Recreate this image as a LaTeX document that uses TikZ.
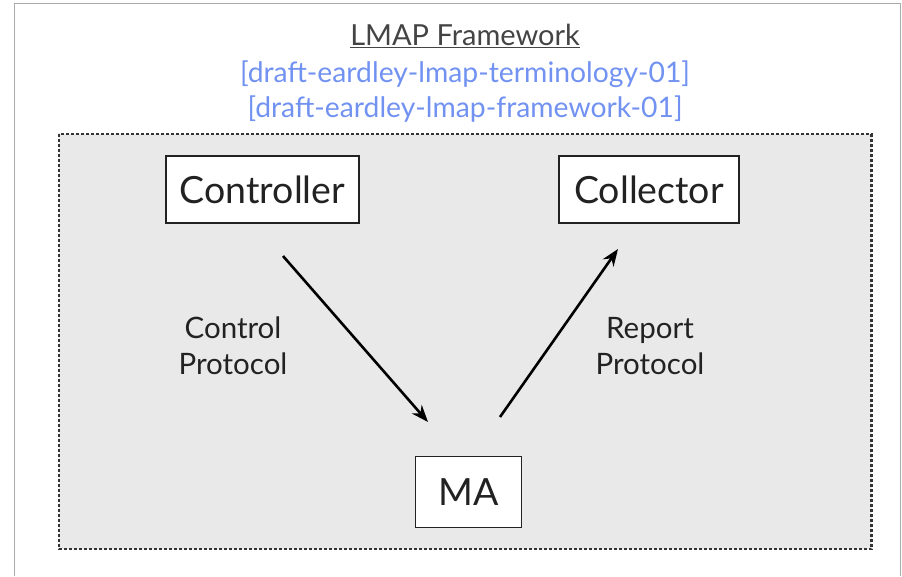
\documentclass[tikz,border=0pt]{standalone}
\usepackage{fontspec}
\setmainfont{Lato}
\usetikzlibrary{arrows.meta}
\definecolor{framegray}{HTML}{AAAAAA}
\definecolor{panelgray}{HTML}{E9E9E9}
\definecolor{dotgray}{HTML}{333333}
\definecolor{titlegray}{HTML}{444444}
\definecolor{draftblue}{HTML}{7292F2}
\definecolor{inkdark}{HTML}{222222}

\begin{document}
\begin{tikzpicture}[x=1pt,y=-1pt,
    entity/.style={draw=inkdark,line width=1.4pt,fill=white,inner sep=0pt,
        font=\fontsize{37.5}{44}\selectfont,text=inkdark},
    proto/.style={align=center,font=\fontsize{29.5}{36}\selectfont,text=inkdark},
    flow/.style={-{Stealth[length=17pt,width=13pt]},line width=2.6pt,black}]
    \useasboundingbox (0,0) rectangle (902,576);

    % slide frame
    \draw[framegray,line width=1.8pt](14.5,576)--(14.5,3.5)--(900.5,3.5)--(900.5,576);

    % title and references
    \node[text=titlegray,font=\fontsize{29}{32}\selectfont](title)at(465,36){\underline{LMAP Framework}};
    \node[text=draftblue,font=\fontsize{28.3}{32}\selectfont](terms)at(465,74){[draft-eardley-lmap-terminology-01]};
    \node[text=draftblue,font=\fontsize{28.3}{32}\selectfont](frame)at(465,109){[draft-eardley-lmap-framework-01]};

    % framework panel
    \draw[dotgray,fill=panelgray,line width=2.6pt,dash pattern=on 2.6pt off 2.4pt](59,134)rectangle(871.5,549);

    % entities
    \node[entity,minimum width=193pt,minimum height=67pt](ctrl)at(262.5,189.5){Controller};
    \node[entity,minimum width=180pt,minimum height=67pt](coll)at(649,189.5){Collector};
    \node[entity,minimum width=106pt,minimum height=71pt](ma)at(468.5,492){MA};

    % protocols
    \coordinate(ctrl-out)at(283,256);
    \coordinate(ma-in)at(428,422);
    \coordinate(ma-out)at(500,417);
    \coordinate(coll-in)at(618,249);
    \draw[flow](ctrl-out)--(ma-in);
    \draw[flow](ma-out)--(coll-in);
    \node[proto](ctrl-label)at(233,346){Control\\Protocol};
    \node[proto](coll-label)at(650,346){Report\\Protocol};
\end{tikzpicture}
\end{document}
